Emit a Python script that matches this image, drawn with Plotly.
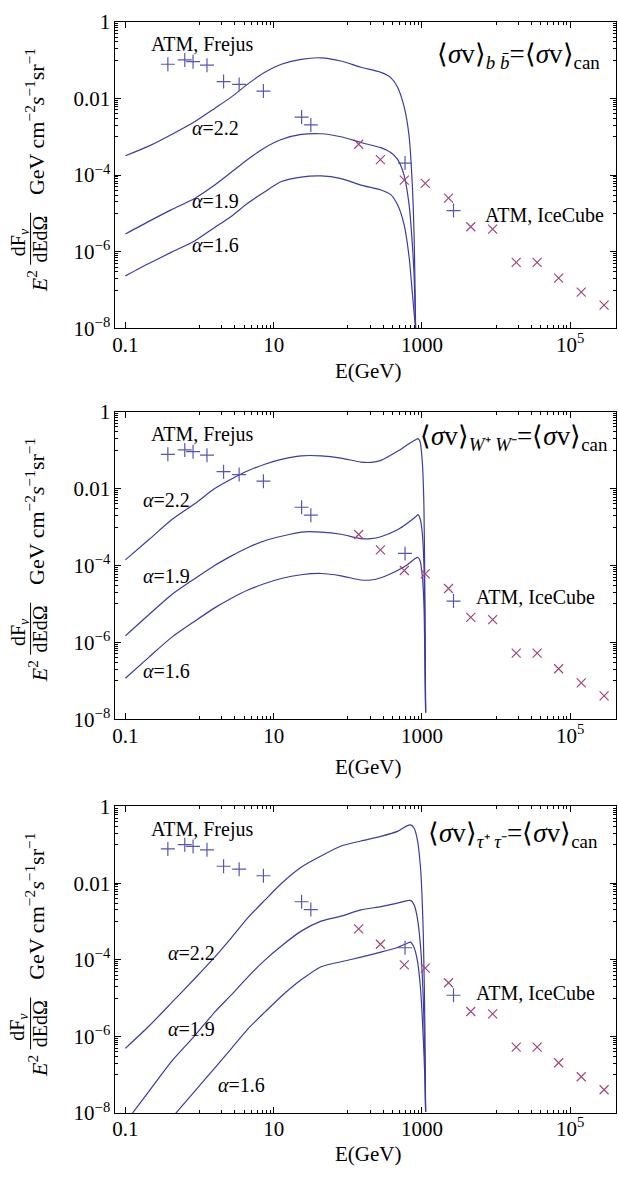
import plotly.graph_objects as go

W, H = 619, 1179
FONT = "Liberation Serif"
LINE_C = "#3b3ba3"
PLUS_C = "#5555b5"
CROSS_C = "#a5457a"

# ---------------- data ----------------
# atmospheric neutrino data points (same in all panels)
plus_E = [0.374, 0.632, 0.818, 1.26, 2.11, 3.42, 7.27, 23.8, 31.7, 591, 2663]
plus_F = [0.078, 0.101, 0.091, 0.074, 0.0276, 0.0232, 0.0156, 3.27e-3, 2.04e-3, 2.06e-4, 1.19e-5]
cross_E = [140, 275, 578, 1107, 2281, 4548, 8977, 18670, 35730, 69660, 140600, 285900]
cross_F = [6.4e-4, 2.54e-4, 7.39e-5, 6.08e-5, 2.52e-5, 4.49e-6, 3.9e-6, 5.28e-7, 5.28e-7, 2.06e-7, 8.88e-8, 4.06e-8]

# panel 1 : b bbar
bb_E = [0.1, 0.21, 0.42, 0.87, 1.6, 2.7, 4.5, 7.6, 12.7, 23.5, 43.6, 81, 150, 279, 379, 467, 573, 670, 741, 782, 805, 822]
bb_a22 = [3.2e-4, 5.8e-4, 1.15e-3, 2.5e-3, 5.5e-3, 1.1e-2, 2.4e-2, 4.8e-2, 7.8e-2, 0.105, 0.115, 0.095,
          0.065, 0.048, 0.035, 0.020, 6.2e-3, 1.05e-3, 5.5e-5, 2.9e-6, 1.5e-7, 8.9e-9]
bb_a19 = [2.9e-6, 6.3e-6, 1.26e-5, 2.5e-5, 5.5e-5, 1.2e-4, 2.6e-4, 5.2e-4, 8.5e-4, 1.15e-3, 1.2e-3, 1.0e-3,
          7.1e-4, 5.2e-4, 3.9e-4, 2.6e-4, 1.0e-4, 1.7e-5, 1.6e-6, 2.5e-7, 4.0e-8, 8.9e-9]
bb_a16 = [2.35e-7, 5.0e-7, 9.8e-7, 1.95e-6, 4.3e-6, 8.5e-6, 1.86e-5, 3.7e-5, 6.8e-5, 8.9e-5, 9.5e-5, 8.1e-5,
          5.5e-5, 4.1e-5, 3.1e-5, 1.7e-5, 5.2e-6, 7.4e-7, 8.5e-8, 2.6e-8, 1.45e-8, 8.9e-9]

# panel 2 : W+ W-
ww_E = [0.1, 0.21, 0.42, 0.87, 1.6, 2.7, 4.5, 7.6, 12.7, 23.5, 43.6, 81, 150, 205, 279, 467, 635, 822,
        883, 940, 1009, 1063, 1097, 1120]
ww_a22 = [1.4e-4, 4.8e-4, 1.55e-3, 4.1e-3, 1.0e-2, 1.78e-2, 2.9e-2, 4.3e-2, 5.75e-2, 7.1e-2, 7.1e-2, 6.2e-2,
          4.9e-2, 4.8e-2, 5.4e-2, 9.3e-2, 0.138, 0.186, 0.2, 0.17, 5.2e-2, 3.4e-3, 9.5e-6, 1.5e-8]
ww_a19 = [1.48e-6, 5.4e-6, 1.74e-5, 4.6e-5, 1.0e-4, 1.78e-4, 2.95e-4, 4.4e-4, 5.75e-4, 7.4e-4, 7.4e-4, 6.5e-4,
          5.0e-4, 5.0e-4, 5.6e-4, 8.5e-4, 1.26e-3, 1.86e-3, 2.1e-3, 1.7e-3, 7.1e-4, 1.0e-4, 1.35e-6, 1.5e-8]
ww_a16 = [1.17e-7, 4.2e-7, 1.35e-6, 3.6e-6, 7.9e-6, 1.41e-5, 2.3e-5, 3.4e-5, 4.6e-5, 5.75e-5, 6.2e-5, 5.4e-5,
          4.2e-5, 4.2e-5, 4.8e-5, 7.4e-5, 1.05e-4, 1.55e-4, 1.62e-4, 1.35e-4, 5.6e-5, 9.5e-6, 2.8e-7, 1.5e-8]

# panel 3 : tau+ tau-
tt_E = [0.1, 0.21, 0.42, 0.87, 1.6, 2.7, 4.5, 7.6, 12.7, 23.5, 43.6, 81, 150, 279, 467, 635, 701, 782,
        865, 959, 1042, 1097, 1120]
tt_a22 = [4.9e-7, 1.9e-6, 7.6e-6, 3.3e-5, 1.17e-4, 3.8e-4, 1.26e-3, 3.6e-3, 9.8e-3, 2.6e-2, 5.1e-2, 9.3e-2,
          0.126, 0.166, 0.224, 0.316, 0.331, 0.275, 0.138, 2.3e-2, 4.7e-4, 1.3e-6, 1.07e-8]
tt_a19 = [5.7e-9, 3.8e-8, 2.24e-7, 1.07e-6, 4.3e-6, 1.23e-5, 3.6e-5, 9.8e-5, 2.3e-4, 5.6e-4, 1.02e-3, 1.38e-3,
          2.0e-3, 2.45e-3, 3.0e-3, 3.5e-3, 3.55e-3, 2.75e-3, 1.26e-3, 2.1e-4, 9.3e-6, 1.8e-7, 1.07e-8]
tt_a16 = [2.95e-10, 1.5e-9, 7.4e-9, 3.8e-8, 1.5e-7, 4.9e-7, 1.58e-6, 4.3e-6, 1.12e-5, 3.0e-5, 6.6e-5, 8.9e-5,
          1.17e-4, 1.58e-4, 2.1e-4, 2.7e-4, 2.9e-4, 2.1e-4, 9.8e-5, 1.66e-5, 8.7e-7, 6.9e-8, 1.07e-8]

x_tickvals = [0.1, 10, 1000, 1e5]
x_ticktext = ["0.1", "10", "1000", "10<sup>5</sup>"]
y_tickvals = [1e-8, 1e-6, 1e-4, 0.01, 1]
y_ticktext = ["10<sup>\u22128</sup>", "10<sup>\u22126</sup>", "10<sup>\u22124</sup>", "0.01", "1"]
x_minor = [m * 10 ** j for j in (0, 2, 4) for m in range(1, 10)]
y_minor = [m * 10.0 ** j for j in (-7, -5, -3, -1) for m in range(1, 10)]

titles = [
    "\u27e8<i>\u03c3</i>v\u27e9<sub><i>b</i> <i>b\u0304</i></sub>=\u27e8<i>\u03c3</i>v\u27e9<sub>can</sub>",
    "\u27e8<i>\u03c3</i>v\u27e9<sub><i>W</i>\u207a <i>W</i>\u207b</sub>=\u27e8<i>\u03c3</i>v\u27e9<sub>can</sub>",
    "\u27e8<i>\u03c3</i>v\u27e9<sub><i>\u03c4</i>\u207a <i>\u03c4</i>\u207b</sub>=\u27e8<i>\u03c3</i>v\u27e9<sub>can</sub>",
]
alpha_labels = ["<i>\u03b1</i>=2.2", "<i>\u03b1</i>=1.9", "<i>\u03b1</i>=1.6"]

panels = [
    dict(E=bb_E, curves=[bb_a22, bb_a19, bb_a16], top=10, bottom=323,
         title_xy=(434, 45), ice_xy=(544, 207), alpha_xy=[(214, 118), (214, 193), (214, 238)],
         xlab_y=366),
    dict(E=ww_E, curves=[ww_a22, ww_a19, ww_a16], top=408, bottom=722,
         title_xy=(417, 435), ice_xy=(535, 597), alpha_xy=[(164, 498), (164, 576), (164, 673)],
         xlab_y=771),
    dict(E=tt_E, curves=[tt_a22, tt_a19, tt_a16], top=811, bottom=1124,
         title_xy=(425, 840), ice_xy=(535, 1001), alpha_xy=[(189, 961), (189, 1038), (240, 1095)],
         xlab_y=1166),
]

X_LEFT, X_RIGHT = 113, 616
XR = [-1.134, 5.617]


def px(x):
    return x / W


def py(y):
    return 1 - y / H


def ann(text, x, y, size=20, xanchor="center", angle=0):
    return dict(text=text, x=px(x), y=py(y), xref="paper", yref="paper", showarrow=False,
                xanchor=xanchor, yanchor="middle", textangle=angle,
                font=dict(family=FONT, size=size, color="black"))


fig = go.Figure()
annotations = []
shapes = []
axis_common = dict(type="log", showline=True, linecolor="black", linewidth=1, mirror="allticks",
                   ticks="inside", ticklen=6, tickwidth=1, tickcolor="black", showgrid=False,
                   zeroline=False, tickfont=dict(family=FONT, size=21, color="black"),
                   tickmode="array")

for i, p in enumerate(panels):
    k = "" if i == 0 else str(i + 1)
    xa, ya = "x" + k, "y" + k
    for c in p["curves"]:
        fig.add_trace(go.Scatter(x=p["E"], y=c, mode="lines", xaxis=xa, yaxis=ya,
                                 line=dict(color=LINE_C, width=1.2, shape="spline", smoothing=0.7),
                                 showlegend=False))
    fig.add_trace(go.Scatter(x=plus_E, y=plus_F, mode="markers", xaxis=xa, yaxis=ya, showlegend=False,
                             marker=dict(symbol="cross-thin", size=10, color=PLUS_C,
                                         line=dict(color=PLUS_C, width=1.2))))
    fig.add_trace(go.Scatter(x=cross_E, y=cross_F, mode="markers", xaxis=xa, yaxis=ya, showlegend=False,
                             marker=dict(symbol="x-thin", size=9, color=CROSS_C,
                                         line=dict(color=CROSS_C, width=1.2))))

    fig.layout["xaxis" + k] = dict(axis_common, domain=[px(X_LEFT), px(X_RIGHT)], range=XR, anchor=ya,
                                   tickvals=x_tickvals, ticktext=x_ticktext, ticklabelstandoff=-3,
                                   minor=dict(tickmode="array", tickvals=x_minor, ticks="inside",
                                              ticklen=3, tickcolor="black"))
    fig.layout["yaxis" + k] = dict(axis_common, domain=[py(p["bottom"]), py(p["top"])], range=[-8, 0],
                                   anchor=xa, tickvals=y_tickvals, ticktext=y_ticktext,
                                   minor=dict(tickmode="array", tickvals=y_minor, ticks="inside",
                                              ticklen=3, tickcolor="black"))

    dy = p["top"] - 10
    annotations.append(ann("ATM, Frejus", 200, 33 + dy, size=20))
    annotations.append(ann("ATM, IceCube", p["ice_xy"][0], p["ice_xy"][1], size=20))
    for lab, (ax_, ay_) in zip(alpha_labels, p["alpha_xy"]):
        annotations.append(ann(lab, ax_, ay_, size=20))
    annotations.append(ann(titles[i], p["title_xy"][0], p["title_xy"][1], size=27, xanchor="left"))
    annotations.append(ann("E(GeV)", 367, p["xlab_y"], size=21))
    # y-axis title (fraction built from pieces)
    annotations.append(ann("<i>E</i><sup>2</sup>", 35, 275 + dy, size=22, angle=-90))
    annotations.append(ann("dF<sub><i>\u03bd</i></sub>", 16, 235 + dy, size=20, angle=-90))
    annotations.append(ann("dEd\u03a9", 37.5, 232 + dy, size=20, angle=-90))
    annotations.append(ann("GeV cm<sup>\u22122</sup><i>s</i><sup>\u22121</sup>sr<sup>\u22121</sup>",
                           32, 111.5 + dy, size=22, angle=-90))
    shapes.append(dict(type="line", xref="paper", yref="paper", x0=px(27.7), x1=px(27.7),
                       y0=py(205 + dy), y1=py(258 + dy), line=dict(color="black", width=1)))

fig.update_layout(width=W, height=H, margin=dict(l=0, r=0, t=0, b=0), paper_bgcolor="white",
                  plot_bgcolor="white", annotations=annotations, shapes=shapes, showlegend=False)

fig.write_html("out.html")
